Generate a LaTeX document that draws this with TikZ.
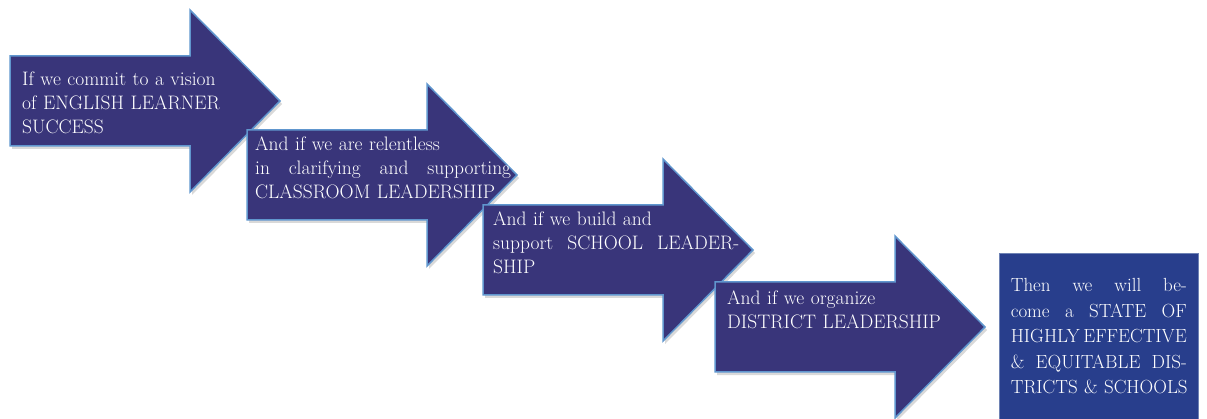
\documentclass[tikz,border=0pt]{standalone}
\usepackage{tikz}
\usetikzlibrary{shadows}

\definecolor{arrowfill}{RGB}{57,53,122}
\definecolor{arrowedge}{RGB}{96,150,206}
\definecolor{boxfill}{RGB}{40,62,140}
\definecolor{boxedge}{RGB}{110,130,180}

\begin{document}
\begin{tikzpicture}[x=1pt,y=-1pt,
    bigarrow/.style={fill=arrowfill, draw=arrowedge, line width=1.5pt, line join=miter,
        drop shadow={opacity=0.3, shadow xshift=2pt, shadow yshift=-3pt}},
    steptext/.style={anchor=north west, inner sep=0pt, text=white, align=left,
        font=\fontsize{19.5}{24}\selectfont}]
    \useasboundingbox (0,0) rectangle (1207,419);
    % the four steps
    \foreach \l/\t in {10/56, 247/130, 483/205, 715/282}
        \draw[bigarrow] (\l,\t) -- ++(180,0) -- ++(0,-46) -- ++(90,91) -- ++(-90,91)
            -- ++(0,-46) -- ++(-180,0) -- cycle;
    \node[steptext, text width=230pt] (vision) at (22,72)
        {If we commit to a vision\\of ENGLISH LEARNER\\SUCCESS};
    \node[steptext, text width=256pt] (classroom) at (255,137)
        {And if we are relentless\\\makebox[256pt][l]{in\hfill clarifying\hfill and\hfill supporting}\\CLASSROOM LEADERSHIP};
    \node[steptext, text width=246pt] (school) at (493,212)
        {And if we build and\\\makebox[246pt][l]{support\hfill SCHOOL\hfill LEADER-}\\SHIP};
    \node[steptext, text width=240pt] (district) at (727,291)
        {And if we organize\\DISTRICT LEADERSHIP};
    % outcome
    \node[fill=boxfill, draw=boxedge, line width=0.6pt, anchor=north west, minimum width=199pt,
        minimum height=166pt, inner sep=0pt, text=white, text width=176pt, align=left,
        font=\fontsize{19}{25.5}\selectfont] (state) at (999,253)
        {\makebox[176pt][l]{Then\hfill we\hfill will\hfill be-}\\\makebox[176pt][l]{come\hfill a\hfill STATE\hfill OF}\\
         \makebox[176pt][l]{HIGHLY\hfill EFFECTIVE}\\\makebox[176pt][l]{\&\hfill EQUITABLE\hfill DIS-}\\
         \makebox[176pt][l]{TRICTS \& SCHOOLS}};
\end{tikzpicture}
\end{document}
